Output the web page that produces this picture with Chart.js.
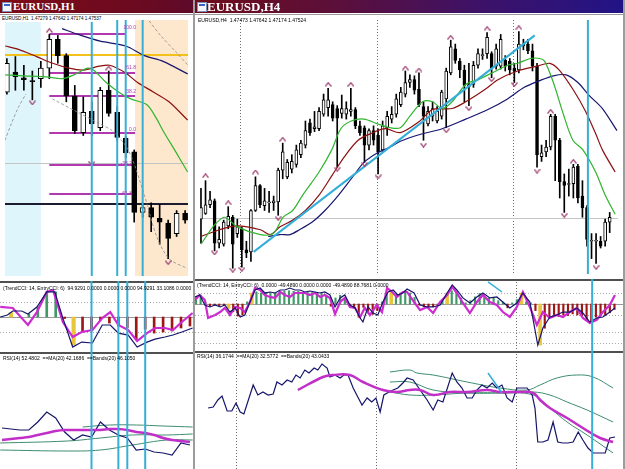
<!DOCTYPE html>
<html>
<head>
<meta charset="utf-8">
<title>EURUSD H1 / H4</title>
<script src="https://cdn.jsdelivr.net/npm/chart.js@4.4.1/dist/chart.umd.min.js"></script>
<style>
  html, body { margin: 0; padding: 0; }
  body { width: 625px; height: 469px; position: relative; overflow: hidden; background: #fff; font-family: "Liberation Sans", Arial, sans-serif; }
  .win { position: absolute; top: 0; height: 469px; overflow: hidden; background: #fff; }
  #winH1 { left: 0; width: 193px; }
  #winH4 { left: 195px; width: 428px; }
  .edge { position: absolute; top: 0; width: 2px; height: 469px; background: #9c9c9c; }
  .title { position: absolute; left: 0; top: 0; right: 0; height: 13px; border-bottom: 1px solid #fff; box-shadow: 0 1px 0 #9a9a9a; }
  #winH1 .title { background: linear-gradient(90deg, #7e0c17, #6c0a20 70%, #5e0a2a); }
  #winH4 .title { background: linear-gradient(90deg, #6e0d1b 0%, #5a0f3c 35%, #3e1266 65%, #221486 100%); }
  .title span { position: absolute; top: 0; color: #fff; font-weight: bold; font-family: "Liberation Serif", "DejaVu Serif", serif; }
  .icon { position: absolute; left: 2px; top: 2px; width: 8px; height: 8px; background: #f4f6fb; border: 1px solid #7c8fb8; }
  .icon i { position: absolute; left: 1px; top: 1px; width: 6px; height: 2px; background: #3a62c4; }
  canvas { position: absolute; left: 0; }
  .lbl { position: absolute; font-size: 5px; line-height: 6px; white-space: pre; color: #000; }
  .fib { position: absolute; width: 28px; text-align: right; font-size: 5px; line-height: 6px; color: #b038b0; }
</style>
</head>
<body>

<div id="winH1" class="win">
  <div class="title"><div class="icon"><i></i></div><span style="left:13px;font-size:11px;line-height:13px">EURUSD,H1</span></div>
  <canvas id="h1Main" width="193" height="266" style="top:15px"></canvas>
  <canvas id="h1Cci" width="193" height="71" style="top:281px"></canvas>
  <canvas id="h1Rsi" width="193" height="117" style="top:352px"></canvas>
  <div class="lbl" style="left:1px;top:16px;font-size:4.6px;background:#fff;padding:0 1px">EURUSD,H1  1.47279 1.47642 1.47174 1.47537</div>
  <div class="fib" style="left:108px;top:24px">100.0</div>
  <div class="fib" style="left:108px;top:64px">61.8</div>
  <div class="fib" style="left:108px;top:88px">38.2</div>
  <div class="fib" style="left:108px;top:126px">0.0</div>
  <div class="fib" style="left:104px;top:160px">-38.2</div>
  <div class="fib" style="left:104px;top:190px">-61.8</div>
  <div class="lbl" style="left:3px;top:285px">(TrendCCI: 14, EntryCCI: 6)  94.9291 0.0000 0.0000 0.0000 94.9291 33.1086 0.0000</div>
  <div class="lbl" style="left:3px;top:355px">RSI(14) 52.4802  ==MA(20) 42.1686  ==Bands(20) 46.1050</div>
</div>
<div class="edge" style="left:193px"></div>

<div id="winH4" class="win">
  <div class="title"><div class="icon"><i></i></div><span style="left:12px;font-size:13px;line-height:13px">EURUSD,H4</span></div>
  <canvas id="h4Main" width="428" height="264" style="top:15px"></canvas>
  <canvas id="h4Cci" width="428" height="72" style="top:279px"></canvas>
  <canvas id="h4Rsi" width="428" height="118" style="top:351px"></canvas>
  <div class="lbl" style="left:3px;top:17px">EURUSD,H4  1.47473 1.47642 1.47174 1.47524</div>
  <div class="lbl" style="left:2px;top:282px">(TrendCCI: 14, EntryCCI: 6)  0.0000 -49.4890 0.0000 0.0000 -49.4890 88.7681 0.0000</div>
  <div class="lbl" style="left:2px;top:353px">RSI(14) 36.1744  ==MA(20) 32.5772  ==Bands(20) 43.0433</div>
</div>
<div class="edge" style="left:623px"></div>

<script>
// ---------- EURUSD,H1 (22 bars) ----------
const h1Open  = [1.4710,1.4731,1.4725,1.4722,1.4724,1.4735,1.4765,1.4748,1.4706,1.4668,1.4690,1.4673,1.4712,1.4689,1.4662,1.4648,1.4585,1.4590,1.4579,1.4574,1.4563,1.4584];
const h1High  = [1.4745,1.4747,1.4738,1.4732,1.4742,1.4770,1.4769,1.4750,1.4717,1.4705,1.4700,1.4715,1.4732,1.4695,1.4664,1.4650,1.4595,1.4595,1.4593,1.4577,1.4587,1.4587];
const h1Low   = [1.4708,1.4712,1.4712,1.4702,1.4715,1.4724,1.4740,1.4700,1.4667,1.4665,1.4665,1.4670,1.4685,1.4660,1.4642,1.4575,1.4580,1.4565,1.4552,1.4537,1.4560,1.4574];
const h1Close = [1.4740,1.4726,1.4723,1.4721,1.4735,1.4765,1.4748,1.4706,1.4670,1.4689,1.4677,1.4712,1.4688,1.4663,1.4647,1.4585,1.4590,1.4580,1.4575,1.4558,1.4584,1.4577];

const h1FastX = [-0.2,2,4.6,6.5,7.9,9.5,10.2,11.7,13.2,14.6,16.5,17.6,18.4,19.9,21.3];
const h1Fast  = [1.4728,1.4727,1.4726,1.4724,1.4728,1.4735,1.4733,1.4720,1.4710,1.4703,1.4697,1.4683,1.4670,1.4648,1.4627];
const h1MidX  = [-0.2,1.2,3.5,5.4,7.3,9,10.9,12.1,14,15.4,17.3,19.1,21.3];
const h1Mid   = [1.4758,1.4755,1.4747,1.4740,1.4735,1.4733,1.4737,1.4738,1.4730,1.4720,1.4710,1.4700,1.4681];
const h1SlowX = [6.5,8.4,11,14,16.2,18.4,21.3];
const h1Slow  = [1.4776,1.4770,1.4763,1.4758,1.4748,1.4742,1.4729];
const h1EnvAX = [-0.22,0.56,1.34,2.23];
const h1EnvA  = [1.4660,1.4678,1.4694,1.4708];
const h1EnvBX = [5.36,8.16,10.95,12.4,14.3,16.2,17.65,19.1,21.2];
const h1EnvB  = [1.4703,1.4690,1.4677,1.4670,1.4650,1.4603,1.4560,1.4537,1.4527];
const h1EnvCX = [16.76,18.2,19.9,21.34];
const h1EnvC  = [1.4784,1.4768,1.4752,1.4738];

const h1UpX = [5,12],          h1UpY = [1.4774,1.4735];
const h1DnX = [3,10,19],       h1DnY = [1.4699,1.4636,1.4533];
const h1FibPrice = [1.4770,1.4730,1.4706,1.4668,1.4634,1.4604];
const h1Yellow = 1.4749, h1Gray = 1.4636, h1Black = 1.4594;
const h1Cursors = [10,13,14,16];

const h1CciTrendX = [-0.2,0.6,1.2,2.2,2.9,3.9,5,5.9,6.8,7.9,8.9,10.1,11.2,12.1,13,14.1,15.1,16.2,17.1,18.2,19.1,20.1,21.3];
const h1CciTrend  = [0,13,40,40,20,67,167,167,-7,-200,-167,-173,-53,-53,-107,-120,-200,-167,-147,-133,-120,-100,-73];
const h1CciEntryX = [-0.2,1.2,2.9,3.9,5,5.7,6.8,7.9,8.9,10.1,11.2,12.1,13,14.1,15.1,16.2,17.1,18.2,19.1,20.1,21.3];
const h1CciEntry  = [67,60,-53,33,167,180,-33,-133,-100,-87,-7,33,-53,-87,-160,-107,-73,-73,-87,-33,27];
const h1CciHist   = [0,30,0,20,67,167,167,-10,-187,-100,-93,-20,-40,-60,-70,-153,-80,-107,-100,-93,-73,-60];
const h1CciYellow = [1,8];

const h1Rsi   = [42,41.5,41,41,45,50,47,40,36,38.5,37.5,45,41,38.5,37,31,31.5,30,29.5,28.5,34.5,33.5];
const h1RsiMa = [36,36.5,37,37.5,38.5,39.5,40.5,41,41,41,41,41,41.5,41.5,41,40,39.5,38.5,37,36,35.5,35];
const h1BandUpX = [9,12,15,18,21.3],                h1BandUp  = [42.5,43.5,43.5,43,42.5];
const h1BandX   = [-0.2,7.3,11,14.6,18.4,21.3];
const h1BandMid = [34.5,35.5,37,38.5,38.5,39];
const h1BandLo  = [31,30.5,31,33.5,36,36];

// ---------- EURUSD,H4 (91 bars) ----------
const h4Open = [1.4578,1.4584,1.4593,1.4597,1.4553,1.4552,1.4571,1.4580,1.4563,1.4568,
  1.4546,1.4544,1.4587,1.4613,1.4592,1.4595,1.4595,1.4596,1.4629,1.4622,
  1.4630,1.4635,1.4645,1.4655,1.4678,1.4672,1.4672,1.4687,1.4694,1.4697,
  1.4693,1.4688,1.4687,1.4690,1.4692,1.4675,1.4673,1.4655,1.4670,1.4665,
  1.4650,1.4673,1.4682,1.4687,1.4697,1.4708,1.4720,1.4723,1.4713,1.4695,
  1.4677,1.4685,1.4680,1.4685,1.4703,1.4730,1.4755,1.4742,1.4733,1.4716,
  1.4718,1.4738,1.4748,1.4750,1.4750,1.4737,1.4737,1.4743,1.4742,1.4735,
  1.4733,1.4758,1.4760,1.4753,1.4737,1.4643,1.4648,1.4653,1.4685,1.4660,
  1.4617,1.4614,1.4615,1.4633,1.4602,1.4590,1.4555,1.4555,1.4555,1.4555,
  1.4575];
const h4High = [1.4610,1.4618,1.4607,1.4599,1.4570,1.4577,1.4591,1.4582,1.4578,1.4570,
  1.4555,1.4588,1.4622,1.4614,1.4610,1.4607,1.4602,1.4631,1.4657,1.4640,
  1.4645,1.4655,1.4660,1.4680,1.4682,1.4690,1.4694,1.4708,1.4714,1.4700,
  1.4696,1.4707,1.4700,1.4714,1.4694,1.4680,1.4675,1.4672,1.4675,1.4672,
  1.4680,1.4690,1.4695,1.4708,1.4715,1.4732,1.4728,1.4727,1.4730,1.4700,
  1.4695,1.4700,1.4695,1.4712,1.4735,1.4764,1.4760,1.4745,1.4738,1.4740,
  1.4742,1.4755,1.4755,1.4772,1.4752,1.4760,1.4770,1.4748,1.4745,1.4740,
  1.4773,1.4765,1.4765,1.4760,1.4740,1.4655,1.4660,1.4687,1.4687,1.4662,
  1.4625,1.4630,1.4635,1.4635,1.4618,1.4592,1.4563,1.4563,1.4560,1.4578,
  1.4585];
const h4Low = [1.4553,1.4583,1.4590,1.4545,1.4548,1.4550,1.4568,1.4527,1.4559,1.4528,
  1.4538,1.4534,1.4586,1.4590,1.4587,1.4585,1.4587,1.4582,1.4620,1.4620,
  1.4626,1.4632,1.4642,1.4652,1.4665,1.4669,1.4670,1.4685,1.4685,1.4680,
  1.4632,1.4683,1.4682,1.4685,1.4672,1.4665,1.4637,1.4650,1.4655,1.4625,
  1.4648,1.4665,1.4678,1.4684,1.4695,1.4705,1.4715,1.4708,1.4695,1.4660,
  1.4675,1.4680,1.4678,1.4682,1.4673,1.4728,1.4740,1.4725,1.4700,1.4696,
  1.4715,1.4735,1.4744,1.4745,1.4725,1.4734,1.4734,1.4732,1.4728,1.4720,
  1.4730,1.4754,1.4750,1.4732,1.4632,1.4638,1.4643,1.4650,1.4618,1.4600,
  1.4585,1.4602,1.4600,1.4595,1.4580,1.4550,1.4537,1.4532,1.4548,1.4550,
  1.4564];
const h4Close = [1.4590,1.4593,1.4598,1.4553,1.4557,1.4575,1.4581,1.4552,1.4570,1.4546,
  1.4543,1.4587,1.4613,1.4593,1.4597,1.4596,1.4597,1.4629,1.4648,1.4637,
  1.4638,1.4650,1.4657,1.4670,1.4668,1.4674,1.4690,1.4702,1.4702,1.4683,
  1.4683,1.4693,1.4693,1.4692,1.4675,1.4668,1.4655,1.4670,1.4660,1.4648,
  1.4675,1.4685,1.4687,1.4703,1.4710,1.4720,1.4723,1.4712,1.4697,1.4685,
  1.4690,1.4693,1.4690,1.4710,1.4732,1.4757,1.4743,1.4733,1.4717,1.4718,
  1.4738,1.4750,1.4749,1.4767,1.4735,1.4755,1.4765,1.4737,1.4733,1.4732,
  1.4760,1.4760,1.4753,1.4737,1.4645,1.4647,1.4653,1.4685,1.4660,1.4617,
  1.4613,1.4615,1.4632,1.4600,1.4590,1.4557,1.4556,1.4556,1.4550,1.4575,
  1.4580];

const h4FastX = [0,3,5.2,8,13.1,15.9,18.1,20.2,22.4,26,28.8,30.8,33.1,35.9,38.9,41.7,43.9,46,48.8,51,53.1,55.3,58.3,61.1,63.2,65.4,67.5,69.7,72.5,74.6,75.7,77.6,79.8,81.9,84.1,86.9,89,91.2];
const h4Fast  = [1.4552,1.4572,1.4580,1.4570,1.4562,1.4563,1.4580,1.4587,1.4603,1.4627,1.4650,1.4672,1.4680,1.4682,1.4677,1.4673,1.4673,1.4685,1.4700,1.4700,1.4693,1.4700,1.4718,1.4723,1.4728,1.4733,1.4738,1.4740,1.4745,1.4745,1.4742,1.4720,1.4687,1.4660,1.4650,1.4627,1.4603,1.4583];
const h4MidX  = [0,4.1,8,13.1,15.3,17.4,20.2,23,26,28.8,31.6,34.6,37.4,40.6,43.9,48.2,51,55.3,58.3,62.6,65.4,69.7,74,76.8,78.9,81.9,84.7,86.9,88.4,91.2];
const h4Mid   = [1.4560,1.4567,1.4571,1.4567,1.4562,1.4570,1.4577,1.4587,1.4603,1.4623,1.4643,1.4660,1.4667,1.4672,1.4668,1.4680,1.4692,1.4693,1.4700,1.4713,1.4723,1.4732,1.4737,1.4740,1.4733,1.4713,1.4690,1.4667,1.4650,1.4627];
const h4SlowX = [14.8,17.4,19.6,21.7,24.5,27.3,30.3,33.1,35.9,38.9,41.7,43.9,48.2,53.1,58.3,63.2,67.5,71.2,74.6,77.6,80.4,83,85.4,88.4,91.6];
const h4Slow  = [1.4560,1.4562,1.4562,1.4567,1.4575,1.4587,1.4603,1.4620,1.4637,1.4647,1.4653,1.4659,1.4666,1.4672,1.4682,1.4692,1.4703,1.4715,1.4722,1.4727,1.4728,1.4720,1.4707,1.4693,1.4670];
const h4TrendX = [11.6,73.5], h4Trend = [1.4544,1.4769];

const h4UpX = [1,6,12,18,28,33,45,48,55,63,70,77,82];
const h4UpY = [1.4623,1.4595,1.4627,1.4661,1.4718,1.4718,1.4735,1.4733,1.4767,1.4776,1.4777,1.4690,1.4638];
const h4DnX = [3,7,9,17,30,36,39,49,54,59,64,69,74,80,87];
const h4DnY = [1.4543,1.4525,1.4526,1.4579,1.4630,1.4635,1.4622,1.4655,1.4670,1.4693,1.4723,1.4718,1.4628,1.4582,1.4528];
const h4Gray = 1.4579;
const h4Separators = [8.6,38.7,68.8];
const h4Cursors = [85.2];

const h4CciTrendX = [-0.2,0.8,1.9,3,4.1,5.2,6.2,7.3,8.4,9.5,10.5,11.6,12.7,13.8,14.8,15.9,17,18.1,19.1,20.2,
  21.3,22.4,23.4,24.5,25.6,26.7,27.7,28.8,29.9,31,32,33.1,34.2,35.3,35.9,37,38.1,39.1,40.2,41.3,
  42.4,43.4,44.5,45.4,46.9,48.2,49.7,51,52.5,54,55.1,56.1,57.4,58.9,60.4,61.7,63.2,64.7,66,67.5,
  69,70.3,71.8,73.5,74.6,76.1,77.6,78.9,80.4,81.9,83.2,84.7,86.2,87.5,89,90.1];
const h4CciTrend = [64,82,-9,-27,-9,-27,-9,-73,-36,-118,-100,18,127,145,100,109,100,127,127,145,
  127,127,109,118,109,100,109,82,-27,55,82,-9,-36,-127,-164,-27,-82,-100,18,109,
  127,82,100,136,100,-9,-27,-27,-9,100,173,127,55,9,64,100,55,64,18,-36,
  9,100,18,-373,-218,-118,-100,-73,-73,-36,-82,-164,-127,-118,-73,-36];
const h4CciEntryX = [-0.2,0.8,1.9,2.6,4.1,5.2,6.2,7.3,8.4,9.5,10.5,11.6,12.7,13.8,14.8,15.9,17,18.1,19.1,20.2,
  21.3,22.4,23.4,24.5,25.6,26.7,27.7,28.8,29.9,31,32,33.1,34.2,35.3,36.3,37.4,38.9,40,41.1,42.2,
  43.2,44.5,45.4,46.9,48.2,49.7,51,52.5,54,55.1,56.1,57.4,58.9,60.4,61.7,63.2,64.7,66,67.5,69,
  70.3,71.8,73.3,74.6,76.1,77.6,78.9,80.4,81.9,83.2,84.7,86.2,87.5,89,90.1];
const h4CciEntry = [36,82,36,-127,-100,-73,-36,-100,-27,-36,-73,18,145,127,82,64,55,109,82,64,
  100,100,100,82,100,64,82,55,-91,18,55,-27,-36,-118,-36,-100,-9,-73,145,109,
  64,109,109,18,-55,-27,-82,18,82,155,100,9,-82,18,82,18,-9,-73,-118,-27,
  109,-27,-191,-73,-127,-100,-118,-73,-36,-127,-173,-145,-73,-9,82];
const h4CciHist = [60,80,20,-20,-10,-20,-10,-40,-70,-110,
  -100,20,100,110,100,105,100,100,115,115,
  120,115,115,105,110,105,100,105,80,-20,
  55,80,40,-10,-35,-120,-30,-80,-95,-60,
  20,100,115,90,100,120,100,60,-10,-25,
  -25,-25,-10,40,100,120,115,55,10,30,
  65,95,60,55,60,30,15,-35,10,40,
  100,20,10,-60,-373,-220,-120,-105,-115,-100,
  -105,-90,-100,-115,-150,-160,-120,-110,-100,-80,
  -50];
const h4CciYellow = [7,12,42,54,70,74];
const h4CyanCciX = [62.8,65.8], h4CyanCci = [200,109];

const h4RsiX = [2.6,3.7,4.7,5.6,6.7,7.7,8.6,9.5,10.3,11.4,12.3,13.3,14.4,15.5,16.6,17.4,18.5,19.6,20.6,21.5,
  22.4,23.4,24.3,25.4,26.2,27.1,28.2,28.8,29.9,31,31.8,32.7,33.8,34.8,35.7,36.8,37.8,38.7,39.6,40.4,
  41.5,42.4,43.4,44.5,45.4,46.7,48.2,49.7,51,52,53.1,55.1,56.1,57.2,58.3,59.4,60.4,61.5,62.6,63.7,
  64.7,65.8,66.9,68,69,70.1,71.2,72.3,72.9,73.5,74.6,75.7,76.8,77.8,78.9,80,81.1,82.2,83.2,84.3,
  85.4,86.9,88,89,90.1];
const h4Rsi = [52,52.5,56,58,50.5,50.5,54.5,50,49,57,63.5,58.5,60,58.5,59,65,63.5,66,65,68.5,
  67,71,69.5,72,71,74,72,67.5,68.5,67,68.5,68.5,62,57.5,53.5,57,55,57,50,58.5,
  60,61,62,64.5,67,66,61,56,51,56,55,69.5,65,62,57,57,61,63.5,62,64.5,
  62,63.5,57,55,62,62,62,58.5,52,35,35,36,45,35,34.5,34.5,35,40,36,32,
  29.5,29.5,29.5,37,37.5];
const h4RsiMaX = [21.9,27.3,29.5,33.1,35.9,40.2,43.2,46,48.2,51,54.6,58.3,62.6,65.4,69,72.5,74,76.1,79.8,83.2,86.9,89.7];
const h4RsiMa  = [61,67.5,68.5,68.5,65,61,60,61,61,58.5,60,60,61,60,60,59.5,56,52,47,42,37,35];
const h4BandUpX = [41.7,46,47.5,51,58.3,65.4,71.2,74,77.6,81.9,85.4,89.7];
const h4BandUp  = [70,71,69.5,68.5,65,62,61,63.5,67,68.5,67.5,62];
const h4BandX   = [41.7,46,51,58.3,65.4,72.5,76.1,79.8,84.1,89.7];
const h4BandMid = [65,65,61,59.5,59.5,60,58.5,55,51,45];
const h4BandLo  = [60,58.5,58.5,59.5,59.5,58.5,52,45,38.5,29.5];
const h4CyanRsiX = [62.8,65.8], h4CyanRsi = [69.5,59.5];

// ---------- helpers ----------
const pts = (xs, ys) => xs.map((x, k) => ({ x, y: ys[k] }));

function line(xs, ys, color, width, extra) {
  return Object.assign({
    type: 'line', data: pts(xs, ys), borderColor: color, borderWidth: width,
    pointRadius: 0, tension: 0, fill: false, order: 2
  }, extra || {});
}

function candles(o, h, l, c, body) {
  const idx = o.map((_, i) => i);
  return [
    { type: 'bar', data: idx.map(i => ({ x: i, y: [l[i], h[i]] })), backgroundColor: '#000',
      barThickness: 1, grouped: false, order: 6 },
    { type: 'bar', data: idx.map(i => ({ x: i, y: [o[i], c[i]] })),
      backgroundColor: idx.map(i => c[i] >= o[i] ? '#fff' : '#000'),
      borderColor: '#000', borderWidth: 1, borderSkipped: false,
      barThickness: body, grouped: false, order: 5 }
  ];
}

function chevron(up) {
  const c = document.createElement('canvas');
  c.width = 7; c.height = 5;
  const g = c.getContext('2d');
  g.strokeStyle = '#a44a78'; g.lineWidth = 1.3;
  g.beginPath();
  if (up) { g.moveTo(0.5, 4.5); g.lineTo(3.5, 0.7); g.lineTo(6.5, 4.5); }
  else { g.moveTo(0.5, 0.5); g.lineTo(3.5, 4.3); g.lineTo(6.5, 0.5); }
  g.stroke();
  return c;
}
const markUp = chevron(true), markDown = chevron(false);

function marks(xs, ys, img) {
  return { type: 'line', data: pts(xs, ys), showLine: false, pointStyle: img, pointRadius: 4, order: 0 };
}

function cciBars(vals, yellow, thick) {
  const plain = vals.map((v, i) => yellow.includes(i) ? null : { x: i, y: [0, v] }).filter(Boolean);
  const yel = yellow.map(i => ({ x: i, y: [0, vals[i]] }));
  return [
    { type: 'bar', data: plain, backgroundColor: plain.map(p => p.y[1] >= 0 ? '#3f9a66' : '#9e1616'),
      barThickness: thick, grouped: false, order: 4 },
    { type: 'bar', data: yel, backgroundColor: '#e9c53c', barThickness: thick + 1.5, grouped: false, order: 4 }
  ];
}

// background bands, levels, separators, panel border and cursor lines
const deco = {
  id: 'deco',
  beforeDatasetsDraw(chart, args, o) {
    const { ctx, chartArea: a, scales: { x, y } } = chart;
    ctx.save();
    (o.bands || []).forEach(b => {
      const x0 = Math.max(a.left, x.getPixelForValue(b.from));
      const x1 = Math.min(a.right, x.getPixelForValue(b.to));
      ctx.fillStyle = b.color;
      ctx.fillRect(x0, a.top, x1 - x0, a.bottom - a.top);
    });
    (o.seps || []).forEach(v => {
      const px = Math.round(x.getPixelForValue(v)) + 0.5;
      ctx.strokeStyle = '#6e6e6e'; ctx.lineWidth = 1; ctx.setLineDash([1, 2]);
      ctx.beginPath(); ctx.moveTo(px, a.top); ctx.lineTo(px, a.bottom); ctx.stroke();
    });
    (o.levels || []).forEach(l => {
      const w = l.width || 1;
      const py = Math.round(y.getPixelForValue(l.y)) + (w % 2 ? 0.5 : 0);
      const x0 = l.from === undefined ? a.left : x.getPixelForValue(l.from);
      const x1 = l.to === undefined ? a.right : x.getPixelForValue(l.to);
      ctx.strokeStyle = l.color; ctx.lineWidth = w; ctx.setLineDash(l.dash || []);
      ctx.beginPath(); ctx.moveTo(x0, py); ctx.lineTo(x1, py); ctx.stroke();
    });
    ctx.restore();
  },
  afterDatasetsDraw(chart, args, o) {
    const { ctx, chartArea: a, scales: { x } } = chart;
    ctx.save();
    if (o.topBorder) { ctx.fillStyle = '#505050'; ctx.fillRect(a.left, a.top, a.right - a.left, 2); }
    (o.cursors || []).forEach(v => {
      const px = x.getPixelForValue(v);
      ctx.strokeStyle = '#36aed5'; ctx.lineWidth = 2; ctx.setLineDash([]);
      ctx.beginPath(); ctx.moveTo(px, a.top); ctx.lineTo(px, a.bottom); ctx.stroke();
    });
    ctx.restore();
  }
};

function panel(id, xr, yr, datasets, decoOpts) {
  return new Chart(document.getElementById(id), {
    type: 'bar',
    data: { datasets },
    options: {
      responsive: false, animation: false, events: [],
      layout: { padding: 0 },
      plugins: { legend: { display: false }, tooltip: { enabled: false }, deco: decoOpts },
      scales: {
        x: { type: 'linear', display: false, offset: false, min: xr[0], max: xr[1] },
        y: { type: 'linear', display: false, beginAtZero: false, min: yr[0], max: yr[1] }
      }
    },
    plugins: [deco]
  });
}

const H1_X = [-0.223, 21.34];
const H4_X = [-0.215, 91.83];
const fibMagenta = '#b238b2';

// ---------- H1 panels ----------
panel('h1Main', H1_X, [1.4519, 1.4785], [
  ...candles(h1Open, h1High, h1Low, h1Close, 5),
  line(h1FastX, h1Fast, '#2fb52f', 1.2, { tension: 0.3 }),
  line(h1MidX, h1Mid, '#8c1010', 1.2, { tension: 0.3 }),
  line(h1SlowX, h1Slow, '#16166e', 1.2, { tension: 0.3 }),
  line(h1EnvAX, h1EnvA, '#8a8a8a', 0.8, { borderDash: [3, 2], tension: 0.3 }),
  line(h1EnvBX, h1EnvB, '#8a8a8a', 0.8, { borderDash: [3, 2], tension: 0.3 }),
  line(h1EnvCX, h1EnvC, '#8a8a8a', 0.8, { borderDash: [3, 2], tension: 0.3 }),
  marks(h1UpX, h1UpY, markUp),
  marks(h1DnX, h1DnY, markDown)
], {
  bands: [{ from: -1, to: 4.0, color: '#ddf5fb' }, { from: 15.1, to: 30, color: '#fde8cd' }],
  levels: [
    { y: h1Gray, color: '#c4c4c4' },
    { y: h1Yellow, color: '#f2c21a', width: 2 },
    { y: h1Black, color: '#1c1c30', width: 2 },
    ...h1FibPrice.map((p, k) => ({ y: p, color: fibMagenta, width: 2, from: 5, to: k === 0 ? 14 : 15.1 }))
  ],
  cursors: h1Cursors
});

panel('h1Cci', H1_X, [-233, 240], [
  ...cciBars(h1CciHist, h1CciYellow, 2),
  line(h1CciEntryX, h1CciEntry, '#cc2ccf', 2.2, { order: 2 }),
  line(h1CciTrendX, h1CciTrend, '#15156b', 1.2, { order: 1 })
], {
  levels: [{ y: 0, color: '#9a9a9a' }, { y: 100, color: '#a8a8a8', dash: [1, 2] }, { y: -100, color: '#a8a8a8', dash: [1, 2] }],
  topBorder: true, cursors: h1Cursors
});

const h1Idx = h1Rsi.map((_, i) => i);
panel('h1Rsi', H1_X, [21.5, 80], [
  line(h1BandUpX, h1BandUp, '#3d8c6e', 1, { tension: 0.4, order: 3 }),
  line(h1BandX, h1BandMid, '#3d8c6e', 1, { tension: 0.4, order: 3 }),
  line(h1BandX, h1BandLo, '#3d8c6e', 1, { tension: 0.4, order: 3 }),
  line(h1Idx, h1Rsi, '#15156b', 1.2, { order: 2 }),
  line(h1Idx, h1RsiMa, '#c22fc8', 2.5, { tension: 0.4, order: 1 })
], { topBorder: true, cursors: h1Cursors });

// ---------- H4 panels ----------
panel('h4Main', H4_X, [1.4521, 1.4785], [
  ...candles(h4Open, h4High, h4Low, h4Close, 3),
  line(h4FastX, h4Fast, '#2fb52f', 1.2, { tension: 0.3 }),
  line(h4MidX, h4Mid, '#8c1010', 1.2, { tension: 0.3 }),
  line(h4SlowX, h4Slow, '#16166e', 1.2, { tension: 0.3 }),
  line(h4TrendX, h4Trend, '#33aed8', 2, { order: 1 }),
  marks(h4UpX, h4UpY, markUp),
  marks(h4DnX, h4DnY, markDown)
], {
  seps: h4Separators,
  levels: [{ y: h4Gray, color: '#c4c4c4' }],
  cursors: h4Cursors
});

panel('h4Cci', H4_X, [-427, 227], [
  ...cciBars(h4CciHist, h4CciYellow, 1.5),
  line(h4CciEntryX, h4CciEntry, '#cc2ccf', 2.2, { order: 2 }),
  line(h4CciTrendX, h4CciTrend, '#15156b', 1.2, { order: 1 }),
  line(h4CyanCciX, h4CyanCci, '#33aed8', 1.5, { order: 0 })
], {
  seps: h4Separators,
  levels: [
    { y: 0, color: '#9a9a9a' },
    { y: 100, color: '#a8a8a8', dash: [1, 2] },
    { y: -100, color: '#a8a8a8', dash: [1, 2] },
    { y: -250, color: '#a8a8a8', dash: [1, 2] },
    { y: -350, color: '#a8a8a8', dash: [1, 2] }
  ],
  topBorder: true, cursors: h4Cursors
});

panel('h4Rsi', H4_X, [21.5, 80.5], [
  line(h4BandUpX, h4BandUp, '#3d8c6e', 1, { tension: 0.4, order: 3 }),
  line(h4BandX, h4BandMid, '#3d8c6e', 1, { tension: 0.4, order: 3 }),
  line(h4BandX, h4BandLo, '#3d8c6e', 1, { tension: 0.4, order: 3 }),
  line(h4RsiX, h4Rsi, '#15156b', 1.2, { order: 2 }),
  line(h4RsiMaX, h4RsiMa, '#c22fc8', 2.5, { tension: 0.4, order: 1 }),
  line(h4CyanRsiX, h4CyanRsi, '#33aed8', 1.5, { order: 0 })
], { seps: h4Separators, topBorder: true, cursors: h4Cursors });
</script>
</body>
</html>
